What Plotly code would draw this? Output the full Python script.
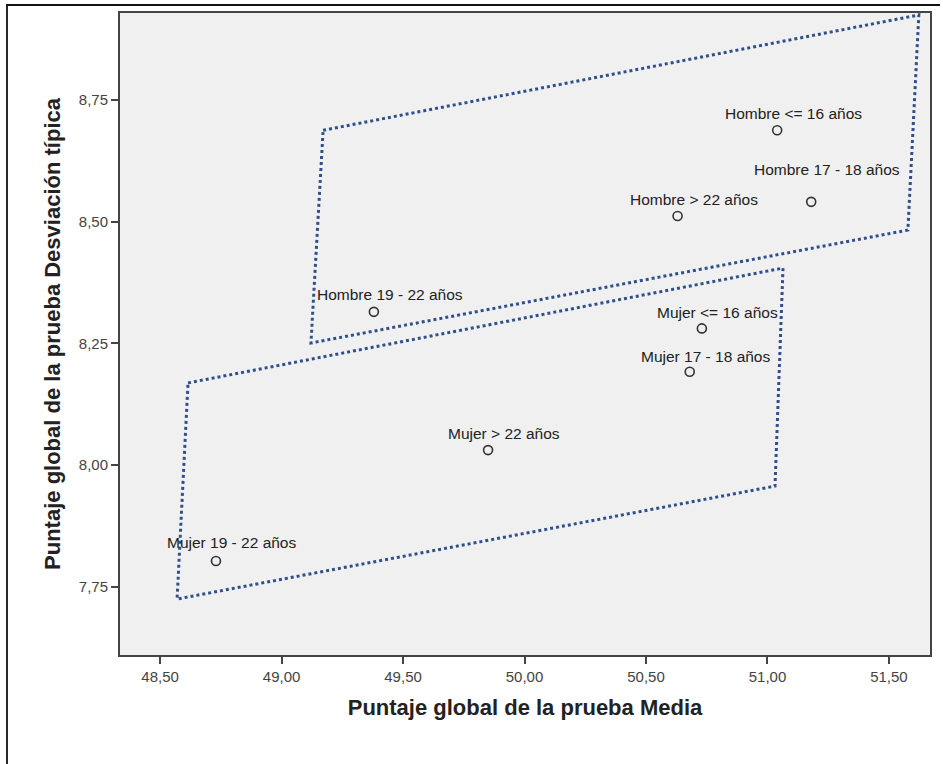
import plotly.graph_objects as go

# ---- data ----
labels = ["Hombre <= 16 años", "Hombre 17 - 18 años", "Hombre > 22 años", "Hombre 19 - 22 años",
          "Mujer <= 16 años", "Mujer 17 - 18 años", "Mujer > 22 años", "Mujer 19 - 22 años"]
media = [51.04, 51.18, 50.63, 49.38, 50.73, 50.68, 49.85, 48.73]
desv = [8.688, 8.541, 8.512, 8.315, 8.281, 8.192, 8.031, 7.803]

# grouping outlines (polygon vertices in data units)
hombre_poly_x = [49.171, 51.623, 51.578, 49.121, 49.171]
hombre_poly_y = [8.688, 8.925, 8.483, 8.251, 8.688]
mujer_poly_x = [48.615, 51.064, 51.031, 48.570, 48.615]
mujer_poly_y = [8.169, 8.405, 7.957, 7.725, 8.169]

x_ticks = [48.5, 49.0, 49.5, 50.0, 50.5, 51.0, 51.5]
x_ticktext = ["48,50", "49,00", "49,50", "50,00", "50,50", "51,00", "51,50"]
y_ticks = [7.75, 8.00, 8.25, 8.50, 8.75]
y_ticktext = ["7,75", "8,00", "8,25", "8,50", "8,75"]

# label offsets (pixels) - style only
label_dx = [16, 16, 16, 16, 16, 16, 16, 16]
label_dy = [17, 32, 16, 17, 16, 15, 17, 19]

FONT = "Arial, Liberation Sans, sans-serif"
POLY_COLOR = "#30508c"

fig = go.Figure()
for px, py in [(hombre_poly_x, hombre_poly_y), (mujer_poly_x, mujer_poly_y)]:
    fig.add_trace(go.Scatter(x=px, y=py, mode="lines",
                             line=dict(color=POLY_COLOR, width=3, dash="dot"),
                             hoverinfo="skip", showlegend=False))

fig.add_trace(go.Scatter(x=media, y=desv, mode="markers",
                         marker=dict(symbol="circle-open", size=9, color="#333333",
                                     line=dict(width=1.6, color="#333333")),
                         text=labels, showlegend=False))

for lab, xv, yv, dx, dy in zip(labels, media, desv, label_dx, label_dy):
    fig.add_annotation(x=xv, y=yv, text=lab, showarrow=False, xshift=dx, yshift=dy,
                       xanchor="center", yanchor="middle",
                       font=dict(family=FONT, size=15.5, color="#222222"))

# outer frame lines of the picture (paper coordinates from pixel positions)
W0, W1, H0, H1 = 120, 930, 13, 655
def pxx(p):
    return (p - W0) / (W1 - W0)
def pxy(p):
    return (H1 - p) / (H1 - H0)

frame_path = "M {:.5f},{:.5f} L {:.5f},{:.5f} L {:.5f},{:.5f}".format(
    pxx(7), pxy(770), pxx(7), pxy(5), pxx(940), pxy(5))
fig.add_shape(type="path", xref="paper", yref="paper", path=frame_path,
              line=dict(color="#111111", width=1.8))

axis_common = dict(showgrid=False, zeroline=False, showline=True, mirror=True,
                   linecolor="#444444", linewidth=2, ticks="outside", ticklen=7,
                   tickwidth=2, tickcolor="#444444",
                   tickfont=dict(family=FONT, size=15, color="#444444"))

fig.update_layout(
    width=943, height=764,
    margin=dict(l=W0, r=943 - W1, t=H0, b=764 - H1),
    paper_bgcolor="white", plot_bgcolor="#f0f0f0",
    xaxis=dict(range=[48.335, 51.669], tickvals=x_ticks, ticktext=x_ticktext,
               title=dict(text="<b>Puntaje global de la prueba Media</b>", standoff=16,
                          font=dict(family=FONT, size=22, color="#222222")),
               **axis_common),
    yaxis=dict(range=[7.610, 8.929], tickvals=y_ticks, ticktext=y_ticktext,
               title=dict(text="<b>Puntaje global de la prueba Desviación típica</b>", standoff=12,
                          font=dict(family=FONT, size=22, color="#222222")),
               **axis_common),
)

fig.write_html("out.html", config={"displayModeBar": False},
               post_script="document.body.style.margin='0';document.body.style.overflow='hidden';")
